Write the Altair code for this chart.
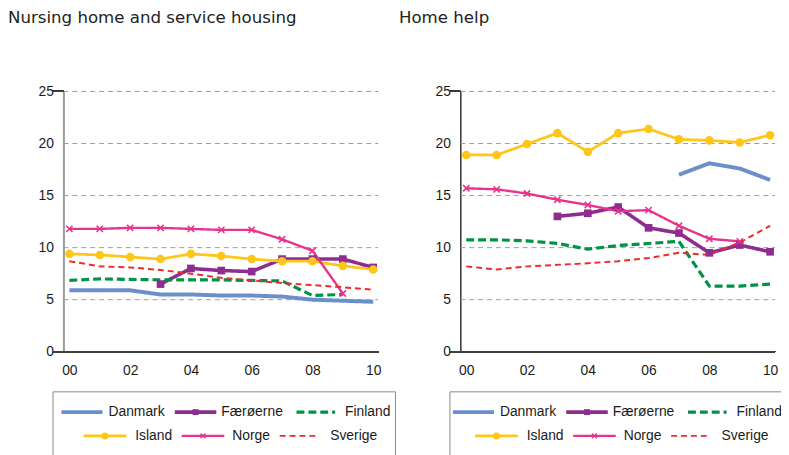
import altair as alt
import pandas as pd

years = ["00", "01", "02", "03", "04", "05", "06", "07", "08", "09", "10"]
countries = ["Danmark", "Færøerne", "Finland", "Island", "Norge", "Sverige"]

# Nursing home and service housing (%)
nh_danmark = [5.9, 5.9, 5.9, 5.5, 5.5, 5.4, 5.4, 5.3, 5.0, 4.9, 4.8]
nh_faeroe = [None, None, None, 6.5, 8.0, 7.8, 7.7, 8.9, 8.9, 8.9, 8.1]
nh_finland = [6.85, 7.0, 6.95, 6.9, 6.9, 6.9, 6.85, 6.8, 5.4, 5.5, None]
nh_island = [9.4, 9.3, 9.1, 8.9, 9.4, 9.2, 8.9, 8.7, 8.7, 8.25, 7.9]
nh_norge = [11.8, 11.8, 11.9, 11.9, 11.8, 11.7, 11.7, 10.8, 9.7, 5.6, None]
nh_sverige = [8.7, 8.2, 8.1, 7.85, 7.5, 7.1, 6.85, 6.6, 6.4, 6.2, 5.95]

# Home help (%)
hh_danmark = [None, None, None, None, None, None, None, 17.0, 18.1, 17.6, 16.5]
hh_faeroe = [None, None, None, 13.0, 13.3, 13.9, 11.9, 11.4, 9.5, 10.25, 9.6]
hh_finland = [10.75, 10.75, 10.65, 10.4, 9.85, 10.2, 10.4, 10.6, 6.3, 6.3, 6.5]
hh_island = [18.9, 18.9, 19.95, 21.0, 19.2, 21.0, 21.4, 20.4, 20.3, 20.1, 20.8]
hh_norge = [15.7, 15.6, 15.2, 14.6, 14.1, 13.5, 13.6, 12.1, 10.85, 10.6, None]
hh_sverige = [8.2, 7.9, 8.2, 8.35, 8.5, 8.7, 9.0, 9.5, 9.3, 10.5, 12.1]

y_ticks = [0, 5, 10, 15, 20, 25]


def long_df(series):
    rows = []
    for c, vals in zip(countries, series):
        for i, v in enumerate(vals):
            if v is not None:
                rows.append({"country": c, "i": i, "year": years[i], "v": v})
    return pd.DataFrame(rows)


nh_df = long_df([nh_danmark, nh_faeroe, nh_finland, nh_island, nh_norge, nh_sverige])
hh_df = long_df([hh_danmark, hh_faeroe, hh_finland, hh_island, hh_norge, hh_sverige])
grid_df = pd.DataFrame({"t": [t for t in y_ticks if t > 0]})

# styles
colors = ["#6B8FCB", "#8E2D8F", "#009245", "#FFC61A", "#E8338D", "#EE2B2B"]
dashes = [[1, 0], [1, 0], [8, 4], [1, 0], [1, 0], [6, 4]]
widths = [4, 2, 4, 2.5, 2, 2]
cscale = alt.Scale(domain=countries, range=colors)
dscale = alt.Scale(domain=countries, range=dashes)
wscale = alt.Scale(domain=countries, range=widths)
XPATH = "M-1,-1L1,1M1,-1L-1,1"

# x extent: axis baseline starts left of the y axis (XL), y axis at X0
XL, X0, X1 = -0.554, -0.195, 10.163
PW = 329
xscale = alt.Scale(domain=[XL, X1], nice=False, zero=False)
yscale = alt.Scale(domain=[0, 25], nice=False)
LABEL_FONT = "Liberation Sans"
AXIS_SHIFT = -11  # y axis sits inside the plot rectangle


def panel(df, title, ycolor, ywidth, tdx):
    base = alt.Chart(df)
    xenc = alt.X("i:Q", scale=xscale, axis=alt.Axis(
        values=list(range(len(years))),
        labelExpr="datum.value < 10 ? '0' + datum.value : '' + datum.value",
        labelOverlap=False, labelFlush=False,
        domain=False, ticks=False, grid=False, labelPadding=12,
        labelFontSize=14, labelFont=LABEL_FONT, labelColor="#1a1a1a", title=None))
    yenc = alt.Y("v:Q", scale=yscale, axis=alt.Axis(
        values=y_ticks, domain=True, domainColor=ycolor, domainWidth=ywidth,
        offset=AXIS_SHIFT, ticks=False, grid=False,
        labelPadding=10, labelFontSize=14, labelFont=LABEL_FONT,
        labelOverlap=False, labelColor="#1a1a1a", title=None))
    col = alt.Color("country:N", scale=cscale, legend=None)
    grid = alt.Chart(grid_df).mark_rule(color="#9c9c9c", strokeWidth=1,
                                         strokeDash=[5, 4]).encode(
        x=alt.datum(X0), x2=alt.datum(X1), y=alt.Y("t:Q", scale=yscale))
    lines = base.mark_line(strokeCap="butt", strokeJoin="round").encode(
        x=xenc, y=yenc, color=col,
        strokeDash=alt.StrokeDash("country:N", scale=dscale, legend=None),
        strokeWidth=alt.StrokeWidth("country:N", scale=wscale, legend=None),
        order="i:Q")
    sq = base.transform_filter(alt.datum.country == "Færøerne").mark_point(
        shape="square", filled=True, size=60, opacity=1).encode(
        x=alt.X("i:Q", scale=xscale), y=alt.Y("v:Q", scale=yscale), color=col)
    ci = base.transform_filter(alt.datum.country == "Island").mark_point(
        shape="circle", filled=True, size=75, opacity=1).encode(
        x=alt.X("i:Q", scale=xscale), y=alt.Y("v:Q", scale=yscale), color=col)
    xx = base.transform_filter(alt.datum.country == "Norge").mark_point(
        shape=XPATH, filled=False, size=40, strokeWidth=1.6, opacity=1).encode(
        x=alt.X("i:Q", scale=xscale), y=alt.Y("v:Q", scale=yscale), color=col)
    base_rule = alt.Chart(df).mark_rule(color="#404040", strokeWidth=1.5).encode(
        x=alt.datum(XL), x2=alt.datum(X1), y=alt.datum(0))
    top_rule = alt.Chart(df).mark_rule(color="#404040", strokeWidth=1).encode(
        x=alt.datum(XL), x2=alt.datum(X0), y=alt.datum(25))
    return alt.layer(grid, lines, sq, ci, xx, base_rule, top_rule).properties(
        width=PW, height=263,
        title=alt.TitleParams(title, anchor="start", frame="group", dx=tdx,
                              offset=45, baseline="alphabetic", fontSize=16.8,
                              font="DejaVu Sans", fontWeight="normal", color="#222222"))


# legend layout (relative to box left edge, px): symbol start, symbol end, label start, row
leg_x0 = [8.5, 123, 246, 31, 130, 229]
leg_x1 = [50, 165, 285, 74, 173, 267]
leg_lx = [56, 170, 295, 83, 181, 280]
leg_row = [0, 0, 0, 1, 1, 1]
LW, LH = 346, 66
row_y = [21, 45]


def legend(shift):
    df = pd.DataFrame({
        "country": countries,
        "x0": [v + shift for v in leg_x0],
        "x1": [v + shift for v in leg_x1],
        "lx": [v + shift for v in leg_lx],
        "y": [row_y[r] for r in leg_row],
    })
    df["xm"] = (df["x0"] + df["x1"]) / 2
    lx = alt.Scale(domain=[0, LW], nice=False, zero=False)
    ly = alt.Scale(domain=[0, LH], nice=False, zero=False, reverse=True)
    base = alt.Chart(df)
    col = alt.Color("country:N", scale=cscale, legend=None)
    rules = base.mark_rule(strokeCap="butt").encode(
        x=alt.X("x0:Q", scale=lx, axis=None), x2="x1:Q",
        y=alt.Y("y:Q", scale=ly, axis=None), color=col,
        strokeDash=alt.StrokeDash("country:N", scale=dscale, legend=None),
        strokeWidth=alt.StrokeWidth("country:N", scale=wscale, legend=None))
    sq = base.transform_filter(alt.datum.country == "Færøerne").mark_point(
        shape="square", filled=True, size=36, opacity=1).encode(
        x=alt.X("xm:Q", scale=lx), y=alt.Y("y:Q", scale=ly), color=col)
    ci = base.transform_filter(alt.datum.country == "Island").mark_point(
        shape="circle", filled=True, size=50, opacity=1).encode(
        x=alt.X("xm:Q", scale=lx), y=alt.Y("y:Q", scale=ly), color=col)
    xx = base.transform_filter(alt.datum.country == "Norge").mark_point(
        shape=XPATH, filled=False, size=25, strokeWidth=1.4, opacity=1).encode(
        x=alt.X("xm:Q", scale=lx), y=alt.Y("y:Q", scale=ly), color=col)
    txt = base.mark_text(align="left", baseline="middle", fontSize=14,
                         font=LABEL_FONT, color="#1a1a1a").encode(
        x=alt.X("lx:Q", scale=lx), y=alt.Y("y:Q", scale=ly), text="country:N")
    return alt.layer(rules, sq, ci, xx, txt).properties(
        width=LW, height=LH,
        view=alt.ViewBackground(stroke="#8a8a8a", strokeWidth=1))


left_panel = panel(nh_df, "Nursing home and service housing", "#9a9a9a", 2, -45)
right_panel = panel(hh_df, "Home help", "#333333", 1.5, -51)
left_leg = legend(0.5)
right_leg = legend(-5)

chart = alt.concat(
    left_panel, right_panel, left_leg, right_leg,
    columns=2, spacing={"row": 40, "column": 55}, bounds="flush",
).resolve_scale(
    x="independent", y="independent"
).properties(
    autosize=alt.AutoSizeParams(type="none"),
    padding={"left": 45, "top": 82, "right": 736, "bottom": 365},
).configure_view(stroke=None)

chart.save("out.html", embed_options={"renderer": "svg", "actions": False})
